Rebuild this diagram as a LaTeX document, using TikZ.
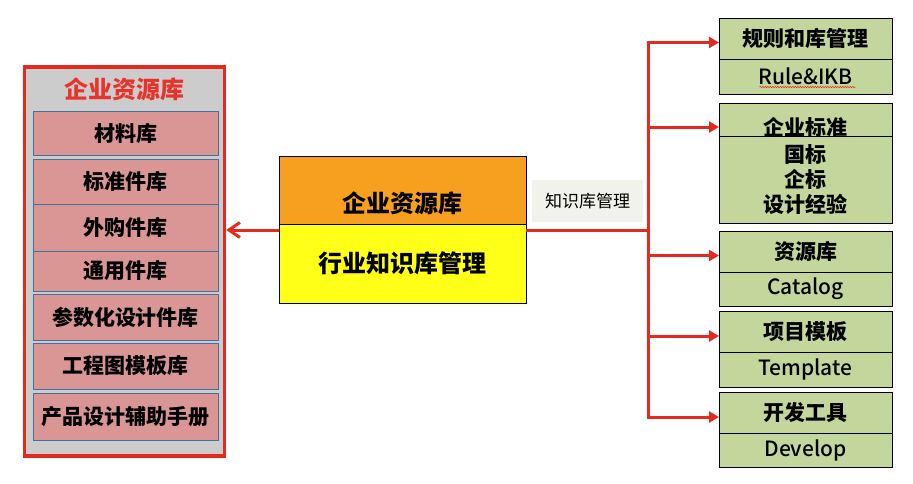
\documentclass[tikz,border=0pt]{standalone}
\usepackage{fontspec}
\setmainfont{Noto Sans CJK SC}
\newfontfamily\medfont{Noto Sans CJK SC Medium}
\usetikzlibrary{positioning}
\usetikzlibrary{arrows.meta,decorations.pathmorphing}

\definecolor{lnred}{HTML}{E42A1F}
\definecolor{titlered}{HTML}{E8332B}
\definecolor{entgray}{HTML}{CCCCCC}
\definecolor{itempink}{HTML}{DA9694}
\definecolor{itemblue}{HTML}{41719C}
\definecolor{resorange}{HTML}{F79F1F}
\definecolor{knowyellow}{HTML}{FFFF17}
\definecolor{libgreen}{HTML}{C3D69B}
\definecolor{lblgray}{HTML}{F2F2EC}

\begin{document}
\begin{tikzpicture}[x=1pt,y=1pt,
    every node/.style={inner sep=0pt, outer sep=0pt},
    item/.style={draw=itemblue, fill=itempink, line width=0.8pt, minimum width=185pt,
        font=\fontsize{21}{25}\selectfont\bfseries},
    gbox/.style={draw=black, fill=libgreen, line width=0.9pt, minimum width=173pt,
        font=\fontsize{21}{25}\selectfont\bfseries},
    latin/.style={font=\fontsize{21}{25}\selectfont\medfont},
    link/.style={draw=lnred, line width=3pt},
    branch/.style={link, -{Triangle[length=10pt,width=11pt]}}]
    \useasboundingbox (0,0) rectangle (913,-483);

    % enterprise library
    \node (ent) [draw=lnred, fill=entgray, line width=3.5pt, outer sep=1.75pt,
        minimum width=200pt, minimum height=389pt] at (124.5,-261.5) {};
    \node (entT) [text=titlered, font=\fontsize{24}{28}\selectfont\bfseries] at (124.5,-89) {企业资源库};
    \node (mat) [item, minimum height=44pt] at (125.5,-133) {材料库};
    \node (std) [item, minimum height=45pt, below=4pt of mat] {标准件库};
    \node (buy) [item, minimum height=47pt, below=0pt of std] {外购件库};
    \node (gen) [item, minimum height=40pt, below=0pt of buy] {通用件库};
    \node (par) [item, minimum height=46pt, below=3pt of gen] {参数化设计件库};
    \node (drw) [item, minimum height=46pt, below=3pt of par] {工程图模板库};
    \node (man) [item, minimum height=47pt, below=4pt of drw] {产品设计辅助手册};

    % centre
    \node (res) [anchor=north west, draw, fill=resorange, line width=1pt,
        minimum width=247pt, minimum height=68pt, text height=56pt, text depth=12pt,
        font=\fontsize{24}{28}\selectfont\bfseries] at (279,-156) {企业资源库};
    \node (know) [below=0pt of res, draw, fill=knowyellow, line width=1pt,
        minimum width=247pt, minimum height=79pt,
        font=\fontsize{24}{28}\selectfont\bfseries] {行业知识库管理};
    \node (lbl) [fill=lblgray, minimum width=111pt, minimum height=42pt,
        font=\fontsize{17}{20}\selectfont] at (587.5,-201) {知识库管理};

    % libraries on the right
    \node (rul) [gbox, minimum height=41pt] at (805.5,-38.5) {规则和库管理};
    \node (rulE) [gbox, latin, minimum height=35pt, below=0pt of rul] {Rule\&IKB};
    \node (nrm) [gbox, minimum height=33pt, text height=32pt, text depth=1pt, below=9pt of rulE] {企业标准};
    \node (nrmE) [gbox, minimum height=87pt, align=center, below=0pt of nrm] {国标\\企标\\设计经验};
    \node (cat) [gbox, minimum height=41pt, below=8pt of nrmE] {资源库};
    \node (catE) [gbox, latin, minimum height=34pt, below=0pt of cat] {Catalog};
    \node (tpl) [gbox, minimum height=41pt, below=5pt of catE] {项目模板};
    \node (tplE) [gbox, latin, minimum height=35pt, below=0pt of tpl] {Template};
    \node (dev) [gbox, minimum height=41pt, below=5pt of tplE] {开发工具};
    \node (devE) [gbox, latin, minimum height=34pt, below=0pt of dev] {Develop};

    \draw[lnred, line width=0.5pt, decorate, decoration={snake, amplitude=0.7pt, segment length=2.5pt}]
        ([xshift=-46pt,yshift=7pt]rulE.south) -- ([xshift=50pt,yshift=7pt]rulE.south);

    %Lines
    \coordinate (hub) at (648,-230);
    \draw[link] (know.east |- hub) -- (hub);
    \draw[link, -{Straight Barb[length=11pt,width=15pt]}] (know.west |- hub) -- (ent.east |- hub);
    \foreach \n/\d in {rul/4, nrm/7.5, cat/4, tpl/4.5, dev/4.5}
        \draw[branch] (hub) |- ([yshift=-\d pt]\n.west);
\end{tikzpicture}
\end{document}
